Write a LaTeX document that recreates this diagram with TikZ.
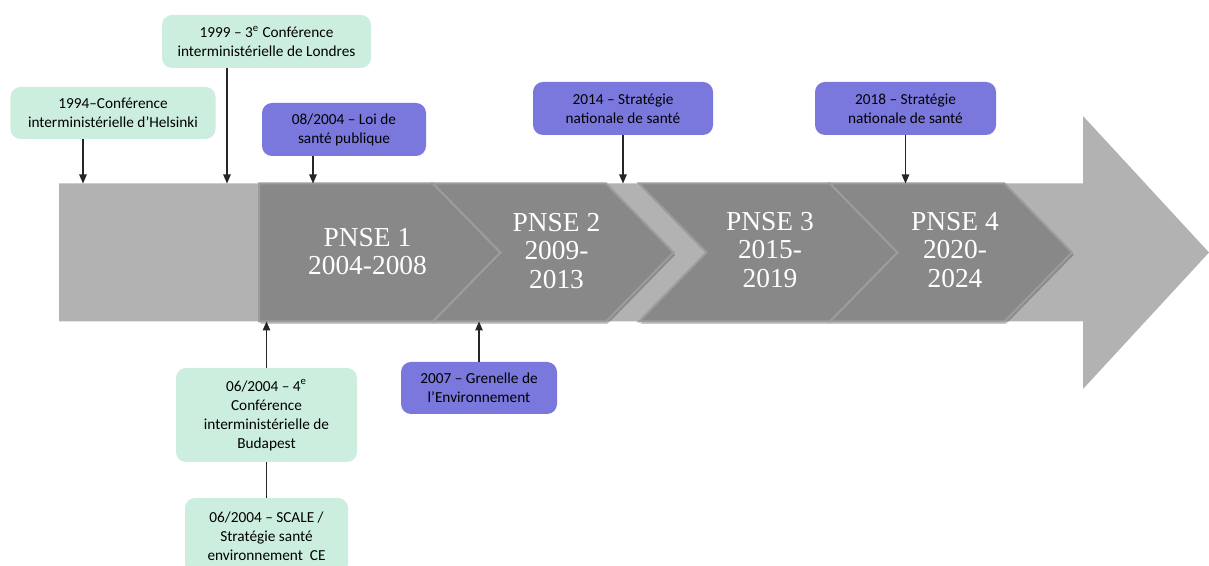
\documentclass[tikz,border=0pt]{standalone}
\usepackage{xcolor}
\usepackage{fontspec}
\setmainfont{Carlito}
\newfontfamily\pnsefont{Liberation Serif}
\usepackage{tikz}
\usetikzlibrary{calc}
\usetikzlibrary{arrows.meta}

\definecolor{shaftgray}{RGB}{178,178,178}
\definecolor{chevgray}{RGB}{136,136,136}
\definecolor{chevedge}{RGB}{156,156,156}
\definecolor{boxgreen}{RGB}{204,238,222}
\definecolor{boxblue}{RGB}{122,120,221}

\begin{document}
\begin{tikzpicture}[
    chevron/.style={fill=chevgray, draw=chevedge, line width=0.04cm, line join=miter},
    chevshadow/.style={fill=black, opacity=0.22},
    pnselabel/.style={text=white, align=center, font=\pnsefont\fontsize{15.6}{16.3}\selectfont},
    greenbox/.style={fill=boxgreen, rounded corners=0.2cm, align=center, inner sep=0pt},
    bluebox/.style={greenbox, fill=boxblue},
    pointer/.style={line width=0.022cm, draw=black!85, -{Triangle[length=0.18cm,width=0.15cm]}},
    joiner/.style={line width=0.022cm, draw=black!85}
]
            \useasboundingbox (0,0) rectangle (24.180000,11.320000);
            \clip (0,0) rectangle (24.180000,11.320000);
            {\fontsize{8.7}{10.8}\selectfont

            % Drawing the timeline arrow
            \fill [shaftgray] (1.180000,7.650000) -- (21.660000,7.650000) -- (21.660000,9.000000)
                -- (24.180000,6.270000) -- (21.660000,3.540000) -- (21.660000,4.890000)
                -- (1.180000,4.890000) -- cycle;%

            % Drawing shadows of the chevrons
            \begin{scope}[shift={(0.030000,-0.050000)}]
            \fill [chevshadow] (5.180000,7.650000) -- (8.660000,7.650000) -- (10.010000,6.270000) -- (8.660000,4.890000) -- (5.180000,4.890000) -- cycle;%
            \fill [chevshadow] (8.660000,7.650000) -- (12.120000,7.650000) -- (13.470000,6.270000) -- (12.120000,4.890000) -- (8.660000,4.890000) -- (10.010000,6.270000) -- cycle;%
            \fill [chevshadow] (12.780000,7.650000) -- (16.600000,7.650000) -- (17.950000,6.270000) -- (16.600000,4.890000) -- (12.780000,4.890000) -- (14.130000,6.270000) -- cycle;%
            \fill [chevshadow] (16.600000,7.650000) -- (20.090000,7.650000) -- (21.440000,6.270000) -- (20.090000,4.890000) -- (16.600000,4.890000) -- (17.950000,6.270000) -- cycle;%
            \end{scope}

            % Drawing chevron PNSE 1
            \draw [chevron] (5.180000,7.650000) -- (8.660000,7.650000) -- (10.010000,6.270000) -- (8.660000,4.890000) -- (5.180000,4.890000) -- cycle;%
            \node [pnselabel] (pnse1) at (7.350000,6.290000) {PNSE 1\\2004-2008};%

            % Drawing chevron PNSE 2
            \draw [chevron] (8.660000,7.650000) -- (12.120000,7.650000) -- (13.470000,6.270000) -- (12.120000,4.890000) -- (8.660000,4.890000) -- (10.010000,6.270000) -- cycle;%
            \node [pnselabel] (pnse2) at (11.130000,6.300000) {PNSE 2\\2009-\\2013};%

            % Drawing chevron PNSE 3
            \draw [chevron] (12.780000,7.650000) -- (16.600000,7.650000) -- (17.950000,6.270000) -- (16.600000,4.890000) -- (12.780000,4.890000) -- (14.130000,6.270000) -- cycle;%
            \node [pnselabel] (pnse3) at (15.400000,6.320000) {PNSE 3\\2015-\\2019};%

            % Drawing chevron PNSE 4
            \draw [chevron] (16.600000,7.650000) -- (20.090000,7.650000) -- (21.440000,6.270000) -- (20.090000,4.890000) -- (16.600000,4.890000) -- (17.950000,6.270000) -- cycle;%
            \node [pnselabel] (pnse4) at (19.100000,6.320000) {PNSE 4\\2020-\\2024};%

            % Boxes above the timeline
            \node [greenbox, minimum width=4.100000cm, minimum height=1.040000cm] (helsinki) at (2.260000,9.060000)
                {1994--Conférence\\interministérielle d’Helsinki};%
            \node [greenbox, minimum width=4.180000cm, minimum height=1.060000cm] (londres) at (5.330000,10.490000)
                {1999 -- 3\textsuperscript{e} Conférence\\interministérielle de Londres};%
            \node [bluebox, minimum width=3.280000cm, minimum height=1.060000cm] (loisante) at (6.880000,8.730000)
                {08/2004 -- Loi de\\santé publique};%
            \node [bluebox, minimum width=3.600000cm, minimum height=1.060000cm] (sns2014) at (12.460000,9.150000)
                {2014 -- Stratégie\\nationale de santé};%
            \node [bluebox, minimum width=3.620000cm, minimum height=1.060000cm] (sns2018) at (18.110000,9.150000)
                {2018 -- Stratégie\\nationale de santé};%

            % Boxes below the timeline
            \node [bluebox, minimum width=3.120000cm, minimum height=1.040000cm] (grenelle) at (9.580000,3.560000)
                {2007 -- Grenelle de\\l’Environnement};%
            \node [greenbox, minimum width=3.620000cm, minimum height=1.880000cm] (budapest) at (5.330000,3.020000)
                {06/2004 -- 4\textsuperscript{e}\\Conférence\\interministérielle de\\Budapest};%
            \node [greenbox, minimum width=3.260000cm, minimum height=1.520000cm] (scale) at (5.330000,0.600000)
                {06/2004 -- SCALE /\\Stratégie santé\\environnement~~CE};%

            % Marking points on the timeline
            \coordinate (hel) at (1.660000,7.650000);%
            \coordinate (lon) at (4.540000,7.650000);%
            \coordinate (loi) at (6.260000,7.650000);%
            \coordinate (t2014) at (12.460000,7.650000);%
            \coordinate (t2018) at (18.110000,7.650000);%
            \coordinate (gre) at (9.580000,4.890000);%
            \coordinate (bud) at (5.330000,4.890000);%

            % Drawing pointers
            \draw [pointer] (helsinki.south -| hel) -- (hel);%
            \draw [pointer] (londres.south -| lon) -- (lon);%
            \draw [pointer] (loisante.south -| loi) -- (loi);%
            \draw [pointer] (sns2014) -- (t2014);%
            \draw [pointer] (sns2018) -- (t2018);%
            \draw [pointer] (grenelle) -- (gre);%
            \draw [pointer] (budapest) -- (bud);%
            \draw [joiner] (scale) -- (budapest);%
            }
\end{tikzpicture}
\end{document}
